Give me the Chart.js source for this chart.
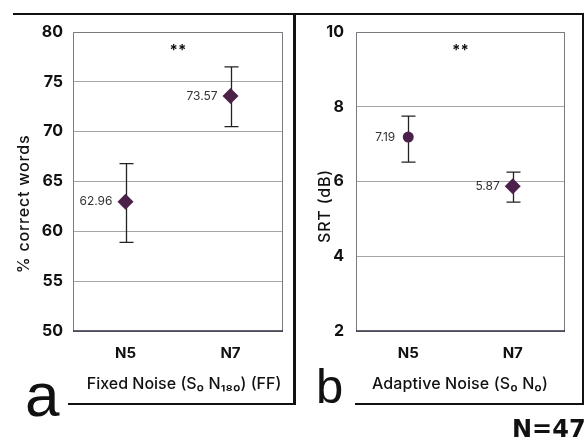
<!DOCTYPE html>
<html>
<head>
<meta charset="utf-8">
<script src="https://cdn.jsdelivr.net/npm/chart.js@4.4.0/dist/chart.umd.min.js"></script>
<style>
  html, body { margin: 0; padding: 0; background: #fff; }
  #wrap { position: relative; width: 586px; height: 439px; overflow: hidden; font-family: Inter, sans-serif; }
  canvas { position: absolute; top: 0; }
  .ln { position: absolute; background: #111; }
  .big { position: absolute; font-family: "Liberation Sans", Arial, sans-serif; color: #111; line-height: 1; }
</style>
</head>
<body>
<div id="wrap">
  <canvas id="chartA" width="294" height="439" style="left:0;width:294px;height:439px"></canvas>
  <canvas id="chartB" width="292" height="439" style="left:294px;width:292px;height:439px"></canvas>

  <!-- panel frames -->
  <div class="ln" style="left:13px;top:13px;width:571px;height:2px"></div>
  <div class="ln" style="left:293px;top:13px;width:3px;height:392px"></div>
  <div class="ln" style="left:582px;top:13px;width:2px;height:392px"></div>
  <div class="ln" style="left:68px;top:403px;width:227px;height:2px"></div>
  <div class="ln" style="left:355px;top:403px;width:229px;height:2px"></div>

  <div class="big" style="left:25px;top:364px;font-size:62px">a</div>
  <div class="big" style="left:316px;top:362px;font-size:49px">b</div>
  <div class="big" style="left:512px;top:417px;font-size:24px;font-weight:bold;font-family:'DejaVu Sans',sans-serif">N=47</div>
</div>
<script>
const categories = ['N5', 'N7'];

// panel a: fixed noise, % correct words
const fixedMeans = [62.96, 73.57];
const fixedLow = [58.9, 70.5];
const fixedHigh = [66.8, 76.5];
const fixedTicks = [50, 55, 60, 65, 70, 75, 80];

// panel b: adaptive noise, SRT (dB)
const adaptiveMeans = [7.19, 5.87];
const adaptiveLow = [6.52, 5.45];
const adaptiveHigh = [7.75, 6.25];
const adaptiveTicks = [2, 4, 6, 8, 10];

const markColor = '#4b2149';

// error bars, value labels, plot frame, "**" and axis titles
const decorPlugin = {
    id: 'decor',
    beforeDatasetsDraw(chart, args, opts) {
        const ctx = chart.ctx;
        const x = chart.scales.x, y = chart.scales.y;
        ctx.save();
        ctx.strokeStyle = '#222';
        ctx.lineWidth = 1.3;
        opts.low.forEach((lo, i) => {
            const px = Math.round(x.getPixelForValue(i)) + 0.5;
            const y1 = y.getPixelForValue(lo), y2 = y.getPixelForValue(opts.high[i]);
            ctx.beginPath();
            ctx.moveTo(px, y1); ctx.lineTo(px, y2);
            ctx.moveTo(px - 7, y1); ctx.lineTo(px + 7, y1);
            ctx.moveTo(px - 7, y2); ctx.lineTo(px + 7, y2);
            ctx.stroke();
        });
        ctx.restore();
    },
    afterDraw(chart, args, opts) {
        const ctx = chart.ctx;
        const a = chart.chartArea;
        const x = chart.scales.x, y = chart.scales.y;
        ctx.save();
        // plot frame
        ctx.lineWidth = 1;
        ctx.strokeStyle = '#7a7a80';
        ctx.beginPath();
        ctx.moveTo(a.left + 0.5, a.bottom);
        ctx.lineTo(a.left + 0.5, a.top + 0.5);
        ctx.lineTo(a.right - 0.5, a.top + 0.5);
        ctx.lineTo(a.right - 0.5, a.bottom);
        ctx.stroke();
        ctx.strokeStyle = '#2e2e40';
        ctx.lineWidth = 1.5;
        ctx.beginPath();
        ctx.moveTo(a.left, a.bottom);
        ctx.lineTo(a.right, a.bottom);
        ctx.stroke();

        // value labels
        ctx.fillStyle = '#333';
        ctx.font = '12px Inter';
        ctx.textAlign = 'right';
        ctx.textBaseline = 'middle';
        opts.means.forEach((v, i) => {
            ctx.fillText(v.toFixed(2), x.getPixelForValue(i) - 13, y.getPixelForValue(v));
        });

        // significance
        ctx.fillStyle = '#111';
        ctx.font = 'bold 15px Inter';
        ctx.textAlign = 'center';
        ctx.fillText('**', (a.left + a.right) / 2, a.top + 18);

        // axis titles
        ctx.font = '500 16px Inter';
        ctx.letterSpacing = opts.xSpacing;
        ctx.fillText(opts.xTitle, opts.xTitleX, 384);
        ctx.translate(opts.yTitleX, opts.yTitleY);
        ctx.rotate(-Math.PI / 2);
        ctx.letterSpacing = '0.8px';
        ctx.fillText(opts.yTitle, 0, 0);
        ctx.restore();
    }
};

function makeChart(id, means, low, high, ticks, padRight, yWidth, tickPad, pointStyles, radii, titles) {
    return new Chart(document.getElementById(id), {
        type: 'line',
        data: {
            labels: categories,
            datasets: [{
                data: means,
                showLine: false,
                pointStyle: pointStyles,
                pointRadius: radii,
                pointHoverRadius: radii,
                pointBackgroundColor: markColor,
                pointBorderColor: markColor,
                pointBorderWidth: 0
            }]
        },
        options: {
            responsive: false,
            animation: false,
            layout: { padding: { top: 32, right: padRight, left: 0, bottom: 0 } },
            plugins: {
                legend: { display: false },
                tooltip: { enabled: false },
                decor: Object.assign({ means: means, low: low, high: high }, titles)
            },
            scales: {
                x: {
                    offset: true,
                    grid: { display: false, drawTicks: false },
                    border: { display: false },
                    ticks: { color: '#111', padding: 13, font: { family: 'Inter', size: 15, weight: 'bold' } },
                    afterFit: s => { s.height = 108; }
                },
                y: {
                    min: ticks[0],
                    max: ticks[ticks.length - 1],
                    afterBuildTicks: s => { s.ticks = ticks.map(v => ({ value: v })); },
                    grid: { color: '#a6a6a6', lineWidth: 1, drawTicks: false },
                    border: { display: false },
                    ticks: { color: '#111', padding: tickPad, font: { family: 'Inter', size: 16, weight: 'bold' } },
                    afterFit: s => { s.width = yWidth; }
                }
            }
        },
        plugins: [decorPlugin]
    });
}

makeChart('chartA', fixedMeans, fixedLow, fixedHigh, fixedTicks, 11, 73, 10,
    ['rectRot', 'rectRot'], [8, 8],
    { xTitle: 'Fixed Noise (S\u2080 N\u2081\u2088\u2080) (FF)', xTitleX: 184, xSpacing: '0px',
      yTitle: '% correct words', yTitleX: 24, yTitleY: 204 });

makeChart('chartB', adaptiveMeans, adaptiveLow, adaptiveHigh, adaptiveTicks, 21, 62, 12,
    ['circle', 'rectRot'], [5.5, 8],
    { xTitle: 'Adaptive Noise (S\u2080 N\u2080)', xTitleX: 166, xSpacing: '0.1px',
      yTitle: 'SRT (dB)', yTitleX: 31, yTitleY: 206 });
</script>
</body>
</html>
